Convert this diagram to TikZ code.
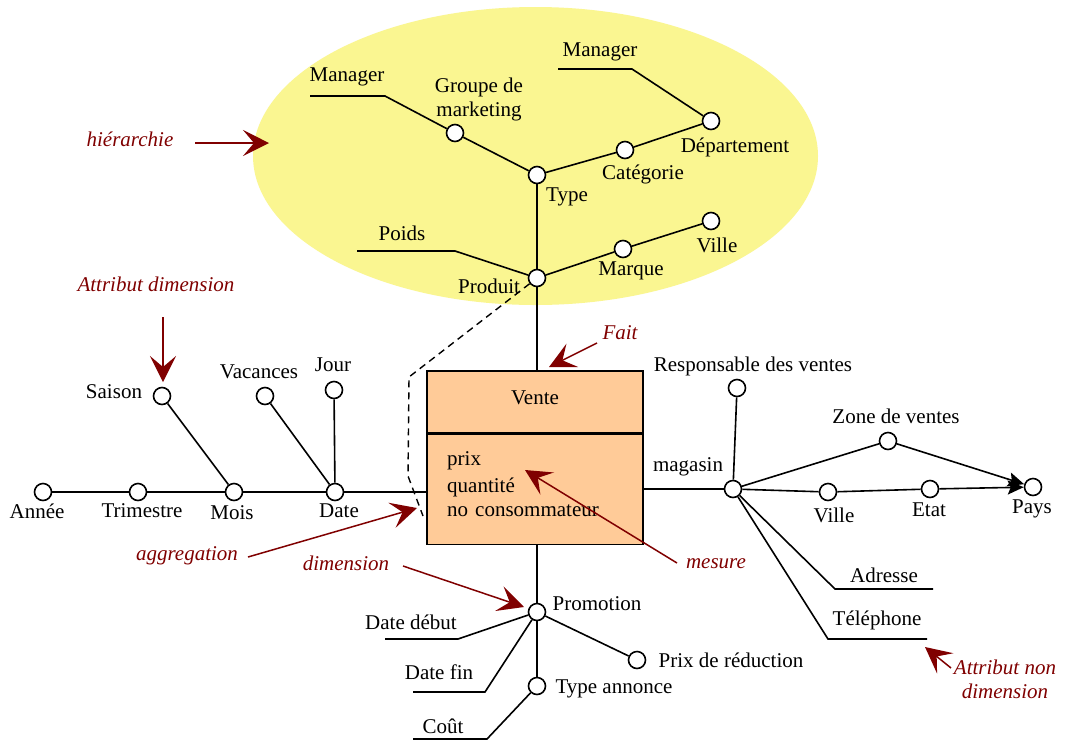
\documentclass[tikz,border=0pt]{standalone}
\usepackage{fontspec}
\setmainfont{Liberation Serif}
\usetikzlibrary{arrows.meta}

\definecolor{hiyellow}{RGB}{250,246,145}
\definecolor{factpeach}{RGB}{255,203,152}
\definecolor{notered}{RGB}{128,0,0}

\begin{document}
\begin{tikzpicture}[x=1pt,y=-1pt,
  every node/.style={font=\fontsize{21}{24}\selectfont},
  attr/.style={circle,draw,fill=white,line width=1.6pt,minimum size=17pt,inner sep=0pt},
  lbl/.style={inner sep=0pt},
  link/.style={line width=1.6pt},
  linkarrow/.style={line width=1.6pt,-{Stealth[length=16pt,width=14pt,inset=3pt]}},
  note/.style={inner sep=0pt,text=notered,font=\fontsize{21}{24}\selectfont\itshape},
  notearrow/.style={draw=notered,line width=1.5pt,-{Stealth[length=26pt,width=26pt,inset=11pt]}},
  factbox/.style={draw,fill=factpeach,line width=1.6pt,minimum width=216pt,inner sep=0pt}
]
\useasboundingbox (0,0) rectangle (1065,740);
\fill[white] (0,0) rectangle (1065,740);

% hierarchy area
\fill[hiyellow] (535.5,156) ellipse [x radius=282.5pt, y radius=149pt];

% fact table
\node[factbox,minimum height=62pt,text depth=8pt,anchor=north] (vente) at (535,370) {Vente};
\node[factbox,minimum height=110pt,anchor=north] (mes) at (vente.south) {};
\node[lbl,anchor=west,text width=190pt,align=left] (mesTxt) at (447,484)
  {\fontsize{21}{26.5}\selectfont prix\\quantité\\no consommateur};

% product dimension
\node[attr] (type) at (537,175) {};
\node[attr] (grp) at (455,133) {};
\node[attr] (cat) at (625,150) {};
\node[attr] (dep) at (711,121) {};
\node[attr] (prod) at (537,278) {};
\node[attr] (marq) at (623,249) {};
\node[attr] (villeP) at (711,221) {};
\coordinate (mgrA1) at (310,96);
\coordinate (mgrA2) at (385,96);
\coordinate (mgrB1) at (558,69);
\coordinate (mgrB2) at (632,69);
\coordinate (poidsA) at (357,251);
\coordinate (poidsB) at (455,251);

\node[lbl] (tManA) at (347,77) {Manager};
\node[lbl,align=center] (tGrp) at (479,99) {Groupe de\\marketing};
\node[lbl] (tManB) at (600,52) {Manager};
\node[lbl] (tType) at (567,197) {Type};
\node[lbl] (tCat) at (643,174) {Catégorie};
\node[lbl] (tDep) at (735,147) {Département};
\node[lbl] (tPoids) at (402,233) {Poids};
\node[lbl] (tProd) at (489,286) {Produit};
\node[lbl] (tMarq) at (631,271) {Marque};
\node[lbl] (tVilleP) at (717,245) {Ville};

% date dimension
\node[attr] (annee) at (43,492) {};
\node[attr] (trim) at (138,492) {};
\node[attr] (mois) at (234,492) {};
\node[attr] (date) at (335,492) {};
\node[attr] (saison) at (162,396) {};
\node[attr] (vac) at (265,396) {};
\node[attr] (jour) at (334,390) {};

\node[lbl] (tAnnee) at (37,511) {Année};
\node[lbl] (tTrim) at (142,511) {Trimestre};
\node[lbl] (tMois) at (232,513) {Mois};
\node[lbl] (tDate) at (339,511) {Date};
\node[lbl] (tSaison) at (114,392) {Saison};
\node[lbl] (tVac) at (259,372) {Vacances};
\node[lbl] (tJour) at (333,365) {Jour};

% store dimension
\node[attr] (mag) at (733,489) {};
\node[attr] (resp) at (737,388) {};
\node[attr] (zone) at (888,441) {};
\node[attr] (villeM) at (828,492) {};
\node[attr] (etat) at (930,489) {};
\node[attr] (pays) at (1033,487) {};
\coordinate (adrA) at (835,589);
\coordinate (adrB) at (933,589);
\coordinate (telA) at (828,639);
\coordinate (telB) at (927,639);

\node[lbl] (tMag) at (688,467) {magasin};
\node[lbl] (tResp) at (753,366) {Responsable des ventes};
\node[lbl] (tZone) at (896,416) {Zone de ventes};
\node[lbl] (tVilleM) at (834,515) {Ville};
\node[lbl] (tEtat) at (929,510) {Etat};
\node[lbl] (tPays) at (1032,509) {Pays};
\node[lbl] (tAdr) at (884,575) {Adresse};
\node[lbl] (tTel) at (877,620) {Téléphone};

% promotion dimension
\node[attr] (promo) at (537,612) {};
\node[attr] (prix) at (637,660) {};
\node[attr] (typann) at (537,686) {};
\coordinate (ddA) at (385,639);
\coordinate (ddB) at (458,639);
\coordinate (dfA) at (413,692);
\coordinate (dfB) at (485,692);
\coordinate (coutA) at (413,739);
\coordinate (coutB) at (487,739);

\node[lbl] (tPromo) at (597,604) {Promotion};
\node[lbl] (tDD) at (411,622) {Date début};
\node[lbl] (tDF) at (439,672) {Date fin};
\node[lbl] (tPrix) at (731,660) {Prix de réduction};
\node[lbl] (tTypAnn) at (614,689) {Type annonce};
\node[lbl] (tCout) at (443,726) {Coût};

% connectors
\draw[link] (mgrA1) -- (mgrA2) -- (grp);
\draw[link] (grp) -- (type);
\draw[link] (type) -- (cat);
\draw[link] (cat) -- (dep);
\draw[link] (mgrB1) -- (mgrB2) -- (dep);
\draw[link] (type) -- (prod);
\draw[link] (poidsA) -- (poidsB) -- (prod);
\draw[link] (prod) -- (marq);
\draw[link] (marq) -- (villeP);
\draw[link] (prod) -- (prod |- vente.north);

\draw[link] (annee) -- (trim);
\draw[link] (trim) -- (mois);
\draw[link] (mois) -- (date);
\draw[link] (date) -- (date -| mes.west);
\draw[link] (saison) -- (mois);
\draw[link] (vac) -- (date);
\draw[link] (jour) -- (date);

\draw[link] (mes.east |- mag) -- (mag);
\draw[link] (resp) -- (mag);
\draw[link] (mag) -- (zone);
\draw[link] (mag) -- (villeM);
\draw[link] (villeM) -- (etat);
\draw[linkarrow] (zone) -- (pays);
\draw[linkarrow] (etat) -- (pays);
\draw[link] (mag) -- (adrA) -- (adrB);
\draw[link] (mag) -- (telA) -- (telB);

\draw[link] (mes.south -| promo) -- (promo);
\draw[link] (promo) -- (typann);
\draw[link] (ddA) -- (ddB) -- (promo);
\draw[link] (dfA) -- (dfB) -- (promo);
\draw[link] (promo) -- (prix);
\draw[link] (coutA) -- (coutB) -- (typann);

% dimension boundary
\coordinate (bndA) at (409,377);
\coordinate (bndB) at (408,476);
\coordinate (bndC) at (423,516);
\draw[line width=1.4pt,dash pattern=on 7pt off 5pt] (prod) -- (bndA) -- (bndB) -- (bndC);

% annotations
\node[note] (nHier) at (130,139) {hiérarchie};
\coordinate (hierS) at (195,143);
\coordinate (hierE) at (269,143);
\draw[notearrow] (hierS) -- (hierE);

\node[note] (nAttr) at (156,284) {Attribut dimension};
\coordinate (attrS) at (163,317);
\coordinate (attrE) at (163,382);
\draw[notearrow] (attrS) -- (attrE);

\node[note] (nFait) at (620,333) {Fait};
\coordinate (faitS) at (597,343);
\coordinate (faitE) at (549,367);
\draw[notearrow] (faitS) -- (faitE);

\node[note] (nAgg) at (187,556) {aggregation};
\coordinate (aggS) at (248,557);
\coordinate (aggE) at (417,508);
\draw[notearrow] (aggS) -- (aggE);

\node[note] (nDim) at (346,563) {dimension};
\coordinate (dimS) at (403,566);
\coordinate (dimE) at (524,607);
\draw[notearrow] (dimS) -- (dimE);

\node[note] (nMes) at (716,564) {mesure};
\coordinate (mesS) at (677,563);
\coordinate (mesE) at (525,470);
\draw[notearrow] (mesS) -- (mesE);

\node[note,align=center] (nNon) at (1005,679) {Attribut non\\dimension};
\coordinate (nonS) at (951,668);
\coordinate (nonE) at (925,647);
\draw[notearrow] (nonS) -- (nonE);
\end{tikzpicture}
\end{document}
